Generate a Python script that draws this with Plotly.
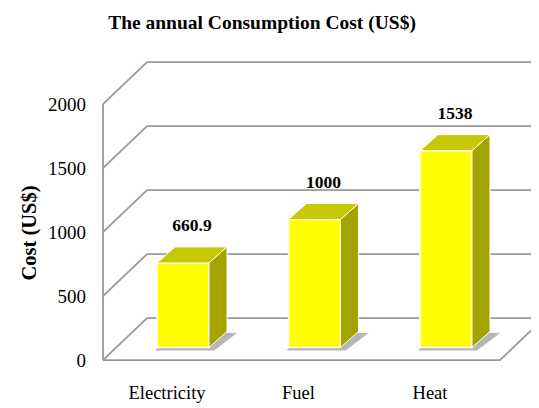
import plotly.graph_objects as go

# ---------------- data ----------------
categories = ["Electricity", "Fuel", "Heat"]
costs = [660.9, 1000, 1538]
y_ticks = [0, 500, 1000, 1500, 2000]
title_text = "The annual Consumption Cost (US$)"
y_title = "Cost (US$)"

# ---------------- geometry (layout, in pixels of the 539x408 window) ----------------
OFF = 8                                  # default page body margin
W, H = 539 - OFF, 408 - OFF              # figure size
L, R, T, B = 98 - OFF, 539 - OFF, 40 - OFF, 365 - OFF   # plot area edges in figure px
PX_PER_CAT = 131.5                       # px between categories
PX_PER_UNIT = 0.128                      # px per US$
first_center_px = 183 - OFF              # px of first category centre
zero_px = 347.5 - OFF                    # px of value 0 in the bar plane

xmin = (L - first_center_px) / PX_PER_CAT
xmax = (R - first_center_px) / PX_PER_CAT
ymax = (zero_px - T) / PX_PER_UNIT
ymin = -(B - zero_px) / PX_PER_UNIT

# 3D box (walls) depth
wall_dx = 44 / PX_PER_CAT
wall_dy = 42 / PX_PER_UNIT
bar_plane = 0.3
front_x = (103 - OFF - first_center_px) / PX_PER_CAT
back_x = front_x + wall_dx
front_off = -bar_plane * wall_dy
back_off = (1 - bar_plane) * wall_dy
floor_right_x = (500 - OFF - first_center_px) / PX_PER_CAT

# bars
bw = 52 / PX_PER_CAT
bdx = 18 / PX_PER_CAT
bdy = 16 / PX_PER_UNIT

FRONT = "#FFFF00"
TOP = "#C8C800"
SIDE = "#A4A400"
GRID = "#999999"
FONT = "Liberation Serif"

xs = list(range(len(categories)))

shapes = []

def path(points):
    return "M " + " L ".join(f"{px},{py}" for px, py in points)

# gridlines on side wall + back wall
for v in y_ticks:
    shapes.append(dict(type="path", xref="x", yref="y", layer="below",
                       path=path([(front_x, v + front_off), (back_x, v + back_off), (xmax + 0.1, v + back_off)]),
                       line=dict(color=GRID, width=1.8)))
# front vertical edge of side wall
shapes.append(dict(type="path", xref="x", yref="y", layer="below",
                   path=path([(front_x, front_off), (front_x, max(y_ticks) + front_off)]),
                   line=dict(color=GRID, width=1.8)))
# floor outline
shapes.append(dict(type="path", xref="x", yref="y", layer="below",
                   path=path([(front_x, front_off), (floor_right_x, front_off),
                              (floor_right_x + wall_dx, back_off)]),
                   line=dict(color=GRID, width=1.8)))

# shadows under the bars
sx = 5 / PX_PER_CAT
sy = 3 / PX_PER_UNIT
for x in xs:
    shapes.append(dict(type="path", xref="x", yref="y", layer="below",
                       path=path([(x - bw / 2 - 2 * sx / 5, -sy), (x + bw / 2 + sx, -sy),
                                  (x + bw / 2 + bdx + 2 * sx, bdy - sy * 0.5),
                                  (x - bw / 2 + bdx, bdy)]) + " Z",
                       fillcolor="rgba(110,110,110,0.5)", line=dict(width=0)))

fig = go.Figure()

# front faces
fig.add_trace(go.Bar(x=xs, y=costs, width=bw, marker=dict(color=FRONT, line=dict(color="white", width=1.5)),
                     hoverinfo="skip", showlegend=False))

# top and side faces
for x, v in zip(xs, costs):
    fig.add_trace(go.Scatter(
        x=[x - bw / 2, x + bw / 2, x + bw / 2 + bdx, x - bw / 2 + bdx, x - bw / 2],
        y=[v, v, v + bdy, v + bdy, v],
        fill="toself", fillcolor=TOP, mode="lines", line=dict(color="white", width=1),
        hoverinfo="skip", showlegend=False))
    fig.add_trace(go.Scatter(
        x=[x + bw / 2, x + bw / 2 + bdx, x + bw / 2 + bdx, x + bw / 2, x + bw / 2],
        y=[0, bdy, v + bdy, v, 0],
        fill="toself", fillcolor=SIDE, mode="lines", line=dict(color="white", width=1),
        hoverinfo="skip", showlegend=False))

# value labels
label_gap = 20 / PX_PER_UNIT
fig.add_trace(go.Scatter(
    x=[x + bdx / 2 for x in xs], y=[v + bdy + label_gap for v in costs],
    mode="text", text=[f"{v:g}" for v in costs], textposition="middle center",
    textfont=dict(family=FONT, size=17.5, color="black", weight="bold"),
    hoverinfo="skip", showlegend=False, cliponaxis=False))

# invisible trace to activate yaxis2 (front-plane value axis)
fig.add_trace(go.Scatter(x=[xs[0]], y=[0], yaxis="y2", mode="markers",
                         marker=dict(opacity=0), hoverinfo="skip", showlegend=False))

fig.update_layout(
    width=W, height=H,
    margin=dict(l=L, r=W - R, t=T, b=H - B, autoexpand=False),
    paper_bgcolor="white", plot_bgcolor="rgba(0,0,0,0)",
    title=dict(text=f"<b>{title_text}</b>", x=(262 - OFF) / W, xanchor="center",
               y=1 - (22 - OFF) / H, yanchor="middle",
               font=dict(family=FONT, size=19.5, color="black")),
    shapes=shapes,
    annotations=[dict(text=f"<b>{y_title}</b>", textangle=-90, showarrow=False,
                      xref="paper", yref="paper",
                      x=(28.5 - OFF - L) / (R - L), y=(B - (233 - OFF)) / (B - T),
                      xanchor="center", yanchor="middle",
                      font=dict(family=FONT, size=20.5, color="black"))],
    xaxis=dict(range=[xmin, xmax], tickvals=xs, ticktext=categories, showgrid=False, zeroline=False,
               showline=False, ticks="", ticklabelstandoff=14, ticklabelshift=-16, automargin=False,
               tickfont=dict(family=FONT, size=18.5, color="black")),
    yaxis=dict(range=[ymin, ymax], visible=False, showgrid=False, zeroline=False),
    yaxis2=dict(range=[ymin - front_off, ymax - front_off], overlaying="y", side="left", anchor="x",
                tickvals=y_ticks, showgrid=False, zeroline=False, showline=False, ticks="",
                ticklabelstandoff=11, automargin=False,
                tickfont=dict(family=FONT, size=19, color="black")),
    showlegend=False,
)

fig.write_html("out.html")
